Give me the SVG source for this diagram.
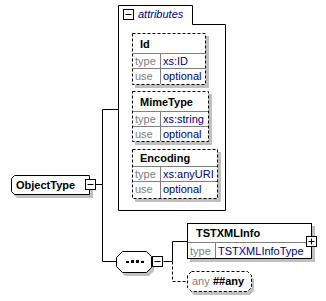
<svg xmlns="http://www.w3.org/2000/svg" width="326" height="301" viewBox="0 0 326 301">
  <style>
    text { font-family: "Liberation Sans", Arial, sans-serif; font-size: 11px; }
    .hdr { font-weight: bold; fill: #000000; }
    .key { fill: #808080; }
    .val { fill: #000080; }
    .box { fill: #ffffff; stroke: #000000; stroke-width: 1; }
    .dash { fill: #ffffff; stroke: #000000; stroke-width: 1; stroke-dasharray: 3 2; }
    .shadow { fill: #c0c0c0; stroke: none; }
    .grid { stroke: #808080; stroke-width: 1; fill: none; }
    .wire { stroke: #000000; stroke-width: 1; fill: none; }
    .wired { stroke: #000000; stroke-width: 1; fill: none; stroke-dasharray: 3 2; }
    .toggle { fill: #ffffff; stroke: #000000; stroke-width: 1; }
  </style>

  <!-- connectors -->
  <g id="connectors">
    <path class="wire" d="M95.5 184.5 H102.5"/>
    <path class="wire" d="M118.5 109.5 H102.5 V261.5 H116.5"/>
    <path class="wire" d="M163.5 261.5 H172.5 V241.5 H187.5"/>
    <path class="wired" d="M172.5 261.5 V281.5 H187.5"/>
  </g>

  <!-- attributes container -->
  <g id="attributes">
    <path class="wire" d="M118.5 210.5 V5.5 H192.5 V24.5 H225.5 V210.5 Z"/>
    <rect class="toggle" x="123.5" y="9.5" width="10" height="10"/>
    <path class="wire" d="M125.5 14.5 H131.5"/>
    <text x="138" y="18" class="val" font-style="italic">attributes</text>
  </g>

  <!-- attribute Id -->
  <g id="attr-Id">
    <rect class="shadow" x="135" y="36" width="74" height="52"/>
    <rect class="dash" x="132.5" y="33.5" width="73" height="51"/>
    <path class="grid" d="M133 53.5 H205 M133 68.5 H205 M160.5 54 V84"/>
    <text x="140" y="48" class="hdr">Id</text>
    <text x="135" y="65" class="key">type</text>
    <text x="163" y="65" class="val">xs:ID</text>
    <text x="135" y="80" class="key">use</text>
    <text x="163" y="80" class="val">optional</text>
  </g>

  <!-- attribute MimeType -->
  <g id="attr-MimeType">
    <rect class="shadow" x="135" y="94" width="77" height="51"/>
    <rect class="dash" x="132.5" y="91.5" width="76" height="50"/>
    <path class="grid" d="M133 111.5 H208 M133 126.5 H208 M160.5 112 V141"/>
    <text x="140" y="106" class="hdr">MimeType</text>
    <text x="135" y="123" class="key">type</text>
    <text x="163" y="123" class="val">xs:string</text>
    <text x="135" y="138" class="key">use</text>
    <text x="163" y="138" class="val">optional</text>
  </g>

  <!-- attribute Encoding -->
  <g id="attr-Encoding">
    <rect class="shadow" x="135" y="152" width="86" height="50"/>
    <rect class="dash" x="132.5" y="149.5" width="85" height="49"/>
    <path class="grid" d="M133 166.5 H217 M133 181.5 H217 M160.5 167 V198"/>
    <text x="140" y="162" class="hdr">Encoding</text>
    <text x="135" y="178" class="key">type</text>
    <text x="163" y="178" class="val">xs:anyURI</text>
    <text x="135" y="193" class="key">use</text>
    <text x="163" y="193" class="val">optional</text>
  </g>

  <!-- element ObjectType -->
  <g id="ObjectType">
    <path class="shadow" d="M17 179 H93 V198 H17 L14 195 V182 Z"/>
    <path class="box" d="M14.5 175.5 H89.5 V194.5 H14.5 L11.5 191.5 V178.5 Z"/>
    <text x="16" y="189" class="hdr">ObjectType</text>
    <rect class="toggle" x="85.5" y="179.5" width="10" height="10"/>
    <path class="wire" d="M87.5 184.5 H93.5"/>
  </g>

  <!-- sequence compositor -->
  <g id="sequence">
    <path class="shadow" d="M125 255 H149 L154 260 V271 L149 276 H125 L119 270 V261 Z"/>
    <path class="box" d="M122.5 251.5 H146.5 L151.5 256.5 V267.5 L146.5 272.5 H122.5 L116.5 266.5 V257.5 Z"/>
    <path d="M126 261 h3 v2 h-3 z M131 260 h3 v3 h-3 z M136 260 h3 v3 h-3 z M141 261 h3 v2 h-3 z" fill="#000000"/>
    <rect class="toggle" x="152.5" y="256.5" width="10" height="10"/>
    <path class="wire" d="M154.5 261.5 H160.5"/>
  </g>

  <!-- element TSTXMLInfo -->
  <g id="TSTXMLInfo">
    <rect class="shadow" x="190" y="226" width="125" height="36"/>
    <rect class="box" x="187.5" y="223.5" width="124" height="35"/>
    <path class="grid" d="M188 242.5 H311 M215.5 243 V258"/>
    <text x="196" y="237" class="hdr">TSTXMLInfo</text>
    <text x="190" y="255" class="key">type</text>
    <text x="218" y="255" class="val">TSTXMLInfoType</text>
    <rect class="toggle" x="306.5" y="236.5" width="10" height="10"/>
    <path class="wire" d="M308.5 241.5 H314.5 M311.5 238.5 V244.5"/>
  </g>

  <!-- any wildcard -->
  <g id="any">
    <path class="shadow" d="M194 275 H250 L254 279 V291 L250 295 H194 L190 291 V279 Z"/>
    <path class="dash" d="M191.5 271.5 H247.5 L251.5 275.5 V287.5 L247.5 291.5 H191.5 L187.5 287.5 V275.5 Z"/>
    <text x="192" y="285" class="key">any</text>
    <text x="213" y="285" class="hdr">##any</text>
  </g>
</svg>
